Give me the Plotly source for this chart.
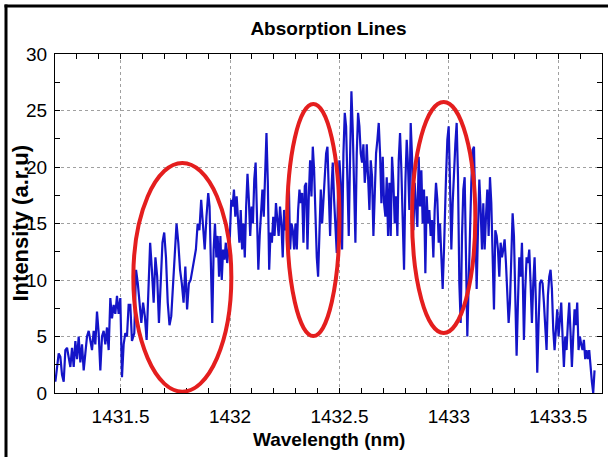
import numpy as np
import plotly.graph_objects as go

# ---- data (intensity, a.r.u), in consecutive wavelength segments ----
seg1 = [1.0, 2.6, 3.5, 3.2, 1.6, 1.0, 3.8, 4.0, 3.0, 2.3, 4.0, 2.3, 4.6, 3.0, 5.0, 2.7, 4.3, 2.0, 3.5, 5.0,
        5.5, 4.6, 3.8, 5.5, 4.3, 7.2, 5.3, 2.0, 5.0, 5.5, 4.3, 5.8, 3.8, 8.4, 6.6, 7.8, 7.0, 8.6, 7.0, 8.4,
        1.4, 4.3, 5.3, 5.0, 7.8, 7.8, 4.6]
seg2 = [5.3, 10.9, 9.7, 7.7, 6.2, 8.0, 6.8, 4.7, 9.7, 13.3, 10.9, 8.0, 12.0, 10.3, 6.2, 9.7, 13.3, 14.2, 12.0, 8.0,
        6.0, 6.8, 9.2, 12.0, 15.0, 13.3, 10.9, 9.7, 8.0, 11.2, 7.4, 9.7, 10.0, 10.9, 12.0, 12.7, 15.0, 14.4, 17.1, 15.0,
        12.7, 15.6, 17.7]
seg3 = [16.5, 12.0, 6.2, 12.7, 15.0, 12.0, 13.9, 10.3, 13.9, 10.0, 12.7, 11.8, 13.3, 11.5, 12.7, 13.9, 17.1, 16.5, 18.0, 15.6,
        17.4, 15.0, 13.3, 16.2, 12.7, 15.0, 12.0, 16.5, 19.4, 17.1, 13.9, 16.5, 15.0, 18.9, 20.4, 15.6, 10.9, 13.9, 16.2, 18.0,
        15.6, 19.7, 23.0, 18.6, 10.9, 14.2, 13.3, 15.6, 13.9, 16.8, 15.0, 13.9, 16.5, 15.0, 12.0, 16.2, 14.4, 15.6, 13.9]
seg4 = [18.6, 12.7, 15.0, 14.4, 12.7, 15.0, 12.7, 16.2, 18.0, 16.8, 17.7, 13.3, 18.3, 18.6, 12.7, 17.4, 20.6, 17.4, 21.8, 19.7,
        15.6, 12.0, 10.3, 15.6, 18.0, 15.0, 17.1, 19.7, 21.2, 21.8, 16.8, 13.9, 18.0, 20.4, 17.1, 15.0, 12.4, 18.0, 20.6, 18.6,
        12.7, 21.2, 24.8, 23.6, 18.6, 13.9, 20.9, 26.7, 23.3, 17.4, 13.3, 21.2, 24.8, 23.6, 21.2, 20.4, 22.0, 18.6, 20.1]
seg5 = [22.0, 18.6, 16.2, 20.6, 19.1, 13.9, 18.0, 21.2, 22.4, 23.9, 21.2, 16.8, 20.9, 16.8, 15.6, 19.1, 13.9, 18.6, 13.9, 20.9,
        18.6, 15.0, 17.4, 13.9, 20.6, 23.0, 19.7, 16.2, 10.9, 18.6, 22.4, 20.1, 16.2, 23.9, 20.9, 14.4, 18.6, 16.5, 14.7, 20.9,
        16.5, 19.7, 15.0, 18.0, 10.6, 17.4, 15.0, 16.2, 13.9, 15.3, 12.0, 16.2, 18.6, 17.1, 13.3, 15.0, 12.7, 9.2, 12.7]
seg6 = [15.6, 19.1, 22.4, 23.6, 18.6, 12.7, 16.8, 20.4, 22.0, 23.9, 19.1, 9.7, 6.2, 13.9, 18.0, 19.1, 12.7, 5.0, 9.7, 15.6,
        18.6, 21.5, 21.8, 15.6, 9.2, 14.4, 18.9, 16.2, 12.7, 16.8, 12.7, 15.6, 18.0, 13.9, 19.1, 16.8, 11.5, 7.4, 14.4, 13.9,
        12.7, 10.3, 13.3, 12.0, 12.7, 13.6, 11.5, 9.2, 6.2, 8.0, 12.0, 15.9, 13.9, 9.7, 3.3, 8.0, 12.0, 10.3, 13.3]
seg7 = [10.9, 4.7, 9.2, 12.0, 11.5, 12.7, 9.7, 6.2, 9.7, 12.0, 8.0, 1.8, 6.2, 9.7, 10.0, 9.7, 8.0, 6.2, 3.8, 8.6,
        10.3, 10.9, 9.2, 5.6, 3.8, 5.6, 7.4, 5.0, 6.8, 8.0, 5.0, 2.3, 5.0, 3.8, 6.2, 8.0, 5.3, 2.3, 5.0, 7.4,
        6.0, 8.0, 3.8, 5.0, 4.3, 3.8, 4.7, 3.0, 3.8, 3.0, 3.8, 2.0, 1.0, 0.0, 2.0]
# wavelength span (nm) covered by each segment (start, end)
seg_spans_nm = [(1431.2017, 1431.5518), (1431.5624, 1431.9003), (1431.9064, 1432.2656),
                (1432.2686, 1432.6217), (1432.6248, 1432.9779), (1432.9810, 1433.3341),
                (1433.3371, 1433.6659)]
segments = [seg1, seg2, seg3, seg4, seg5, seg6, seg7]

# highlighted absorption regions (wavelength from/to, intensity from/to)
highlight_nm = [(1431.558, 1432.006), (1432.261, 1432.500), (1432.832, 1433.121)]
highlight_int = [(0.12, 20.35), (5.04, 25.58), (5.31, 25.75)]

x_ticks = [1431.5, 1432, 1432.5, 1433, 1433.5]
x_tick_text = ["1431.5", "1432", "1432.5", "1433", "1433.5"]
y_ticks = [0, 5, 10, 15, 20, 25, 30]
y_tick_text = ["0", "5", "10", "15", "20", "25", "30"]

wavelength = np.concatenate([np.linspace(a, b, len(s)) for (a, b), s in zip(seg_spans_nm, segments)])
intensity = np.concatenate([np.array(s, dtype=float) for s in segments])

FONT = "Liberation Sans, Arial, Helvetica, sans-serif"
W, H = 608, 457
L, R, T, B = 55, 6, 54, 64
PW, PH = W - L - R, H - T - B


def px_x(p):
    return (p - L) / PW


def px_y(p):
    return (H - B - p) / PH


fig = go.Figure()
fig.add_trace(go.Scatter(x=wavelength, y=intensity, mode="lines",
                         line=dict(color="#1414C8", width=2.2), showlegend=False,
                         hoverinfo="skip"))

for (x0, x1), (y0, y1) in zip(highlight_nm, highlight_int):
    fig.add_shape(type="circle", xref="x", yref="y", x0=x0, x1=x1, y0=y0, y1=y1,
                  line=dict(color="#E41E1E", width=4))

axis_common = dict(showline=True, linecolor="black", linewidth=1, mirror="ticks",
                   ticks="inside", ticklen=5, tickcolor="black",
                   showgrid=True, gridcolor="#a0a0a0", griddash="dot", gridwidth=1,
                   zeroline=False, tickfont=dict(family=FONT, size=19, color="black"))

fig.update_xaxes(range=[1431.2, 1433.7], tickvals=x_ticks, ticktext=x_tick_text,
                 minor=dict(dtick=0.1, tick0=1431.5, ticks="inside", ticklen=5, tickcolor="black", showgrid=False),
                 ticklabelstandoff=6, **axis_common)
fig.update_yaxes(range=[0, 30], tickvals=y_ticks, ticktext=y_tick_text,
                 minor=dict(dtick=2.5, tick0=0, ticks="inside", ticklen=5, tickcolor="black", showgrid=False),
                 ticklabelstandoff=3, **axis_common)

fig.update_layout(
    width=W, height=H,
    margin=dict(l=L, r=R, t=T, b=B),
    paper_bgcolor="white", plot_bgcolor="white",
    title=dict(text="<b>Absorption Lines</b>", xref="paper", x=0.5, xanchor="center",
               yref="container", y=1 - 28 / H, yanchor="middle",
               font=dict(family=FONT, size=19, color="black")),
)

fig.add_annotation(text="<b>Wavelength (nm)</b>", xref="paper", yref="paper", x=0.5, y=0,
                   xanchor="center", yanchor="middle", yshift=-46, showarrow=False,
                   font=dict(family=FONT, size=19, color="black"))
fig.add_annotation(text="<b>Intensity (a.r.u)</b>", xref="paper", yref="paper", x=0, y=0.5,
                   xanchor="center", yanchor="middle", xshift=-35, textangle=-90, showarrow=False,
                   font=dict(family=FONT, size=22, color="black"))

# black frame edges (left and top) of the original picture
fig.add_shape(type="rect", xref="paper", yref="paper", x0=px_x(4.5), x1=px_x(W),
              y0=px_y(7.5), y1=px_y(4.5), fillcolor="black", line=dict(width=0), layer="above")
fig.add_shape(type="rect", xref="paper", yref="paper", x0=px_x(4.5), x1=px_x(7.5),
              y0=px_y(H), y1=px_y(4.5), fillcolor="black", line=dict(width=0), layer="above")

fig.write_html("out.html", config={"displayModeBar": False},
               post_script="document.body.style.margin='0';document.body.style.padding='0';")
